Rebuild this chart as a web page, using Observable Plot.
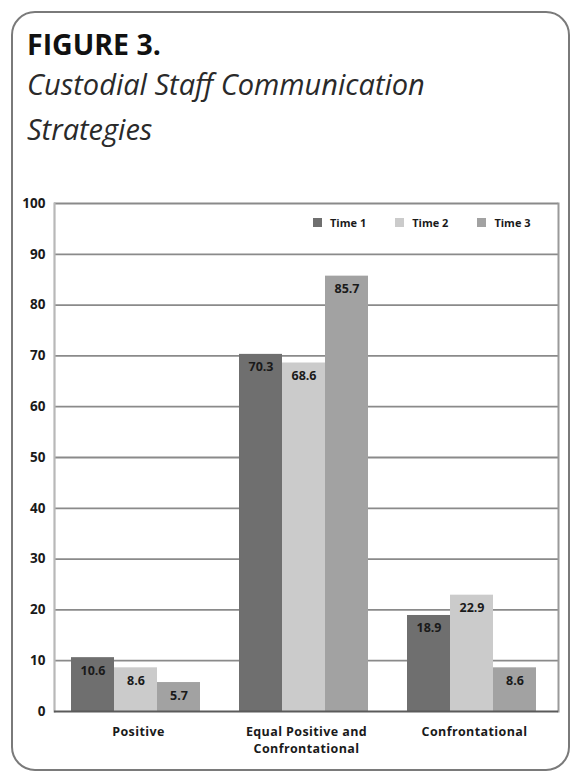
<!DOCTYPE html>
<html>
<head>
<meta charset="utf-8">
<script src="https://cdn.jsdelivr.net/npm/d3@7"></script>
<script src="https://cdn.jsdelivr.net/npm/@observablehq/plot@0.6"></script>
<style>
  body { margin: 0; background: #fff; }
  #page { position: relative; width: 572px; height: 774px; overflow: hidden; font-family: "Open Sans", sans-serif; }
  #frame { position: absolute; left: 11px; top: 11px; width: 555px; height: 756px; border: 2px solid #7a7a7a; border-radius: 24px; box-sizing: content-box; }
  #title { position: absolute; left: 27px; top: 30px; font-size: 28.5px; line-height: 28px; font-weight: 700; color: #111; white-space: nowrap; }
  #subtitle { position: absolute; left: 27px; top: 61px; font-size: 29px; line-height: 45px; font-style: italic; color: #2a2a2a; white-space: nowrap; }
  #chart { position: absolute; left: 0; top: 190px; }
  #chart svg g[aria-label="fx-axis tick label"] text { letter-spacing: 0.4px; }
  #legend { position: absolute; left: 313px; top: 206px; }
  #legend .lg-swatch { margin-right: 29px; }
  #legend .lg-swatch:last-child { margin-right: 0; }
  #legend .lg-swatch > svg { margin-right: 8px; }
</style>
</head>
<body>
<div id="page">
  <div id="frame"></div>
  <div id="title">FIGURE 3.</div>
  <div id="subtitle">Custodial Staff Communication<br>Strategies</div>
  <div id="chart"></div>
  <div id="legend"></div>
</div>
<script>
// Share of communication strategies (%) by category, at three time points
const categories = ["Positive", "Equal Positive and Confrontational", "Confrontational"];
const categoryLabels = ["Positive", "Equal Positive and\nConfrontational", "Confrontational"];
const times = ["Time 1", "Time 2", "Time 3"];
const time1Values = [10.6, 70.3, 18.9];
const time2Values = [8.6, 68.6, 22.9];
const time3Values = [5.7, 85.7, 8.6];
const yTicks = [0, 10, 20, 30, 40, 50, 60, 70, 80, 90, 100];
const timeColors = ["#6f6f6f", "#cbcbcb", "#a2a2a2"];

// long-form rows for the grouped bars
const series = [time1Values, time2Values, time3Values];
const rows = [];
series.forEach((values, i) => {
  values.forEach((v, j) => rows.push({ category: categories[j], time: times[i], value: v }));
});
const labelOf = new Map(categories.map((c, i) => [c, categoryLabels[i]]));

const font = "'Open Sans', sans-serif";

const chart = Plot.plot({
  width: 572,
  height: 584,
  marginLeft: 53,
  marginRight: 14,
  marginTop: 13,
  marginBottom: 63,
  style: { fontFamily: font, background: "transparent", overflow: "visible" },
  fx: { domain: categories, padding: 0, label: null },
  x: { domain: times, paddingInner: 0, paddingOuter: 0.442, align: 0.43, axis: null },
  y: { domain: [0, 100], axis: null },
  color: { domain: times, range: timeColors },
  marks: [
    // horizontal grid
    Plot.ruleY(yTicks.slice(1), { stroke: "#8a8a8a", strokeWidth: 1.8 }),
    // left axis line and right border
    Plot.frame({ anchor: "left", stroke: "#b8b8b8", strokeWidth: 2.2, fx: [categories[0]] }),
    Plot.frame({ anchor: "right", stroke: "#9a9a9a", strokeWidth: 2, fx: [categories[2]] }),
    Plot.barY(rows, { fx: "category", x: "time", y: "value", fill: "time" }),
    Plot.text(rows, {
      fx: "category", x: "time", y: "value",
      text: d => d.value.toFixed(1),
      dy: 13, lineAnchor: "middle",
      fill: "#1a1a1a", fontSize: 12.5, fontWeight: 700
    }),
    Plot.ruleY([0], { stroke: "#5a5a5a", strokeWidth: 1.8 }),
    Plot.axisY({
      ticks: yTicks, tickSize: 0, tickPadding: 9,
      fontSize: 13.5, fontWeight: 700, fill: "#1a1a1a", label: null
    }),
    Plot.axisFx({
      anchor: "bottom", tickSize: 0, tickPadding: 12,
      tickFormat: d => labelOf.get(d),
      fontSize: 12.5, fontWeight: 700, fill: "#1a1a1a", lineHeight: 1.4, label: null
    })
  ]
});
document.getElementById("chart").appendChild(chart);

const legend = Plot.legend({
  color: { domain: times, range: timeColors },
  swatchSize: 9,
  className: "lg",
  style: { fontFamily: font, fontSize: "11px", fontWeight: 700, color: "#1a1a1a" }
});
document.getElementById("legend").appendChild(legend);
</script>
</body>
</html>
